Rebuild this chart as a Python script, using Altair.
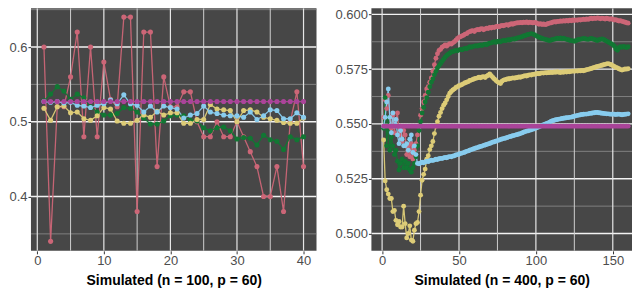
import altair as alt
import pandas as pd

NAMES = ["red", "green", "yellow", "blue", "purple"]
COLORS = ["#CC6677", "#117733", "#DDCC77", "#88CCEE", "#AA4499"]

# ---------------- left panel (n = 100) ----------------
left_x = list(range(1, 41))
left_red = [0.60, 0.34, 0.52, 0.52, 0.56, 0.62, 0.48, 0.60, 0.48, 0.58,
            0.53, 0.52, 0.64, 0.64, 0.38, 0.62, 0.62, 0.44, 0.56, 0.52,
            0.52, 0.54, 0.54, 0.50, 0.48, 0.48, 0.50, 0.48, 0.48, 0.50,
            0.48, 0.46, 0.44, 0.40, 0.40, 0.44, 0.38, 0.50, 0.54, 0.44]
left_green = [0.528, 0.537, 0.547, 0.541, 0.530, 0.537, 0.532, 0.520, 0.513, 0.509,
              0.509, 0.511, 0.519, 0.518, 0.513, 0.505, 0.497, 0.497, 0.501, 0.508,
              0.509, 0.508, 0.502, 0.501, 0.492, 0.488, 0.492, 0.493, 0.488, 0.477,
              0.479, 0.478, 0.469, 0.482, 0.476, 0.474, 0.463, 0.480, 0.476, 0.480]
left_yellow = [0.518, 0.502, 0.520, 0.521, 0.512, 0.513, 0.504, 0.502, 0.508, 0.519,
               0.517, 0.501, 0.498, 0.498, 0.502, 0.509, 0.506, 0.514, 0.509, 0.512,
               0.512, 0.498, 0.498, 0.503, 0.503, 0.523, 0.517, 0.516, 0.515, 0.500,
               0.515, 0.516, 0.513, 0.506, 0.504, 0.502, 0.499, 0.498, 0.498, 0.505]
left_blue = [0.527, 0.526, 0.527, 0.525, 0.526, 0.522, 0.521, 0.519, 0.522, 0.524,
             0.529, 0.524, 0.536, 0.524, 0.522, 0.513, 0.521, 0.513, 0.521, 0.519,
             0.517, 0.505, 0.509, 0.511, 0.521, 0.513, 0.511, 0.509, 0.508, 0.508,
             0.506, 0.513, 0.503, 0.508, 0.516, 0.515, 0.504, 0.504, 0.512, 0.506]
left_purple = [0.527] * 40

# ---------------- right panel (n = 400) ----------------
right_x = list(range(1, 161))
right_red = [
    0.553, 0.561, 0.557, 0.563, 0.553, 0.548, 0.554, 0.546, 0.552, 0.555,
    0.545, 0.549, 0.542, 0.547, 0.545, 0.536, 0.540, 0.535, 0.541, 0.534,
    0.538, 0.541, 0.545, 0.549, 0.554, 0.557, 0.560, 0.563, 0.566, 0.567,
    0.569, 0.571, 0.574, 0.577, 0.580, 0.582, 0.5835, 0.584, 0.585, 0.5855,
    0.5860, 0.5855, 0.5862, 0.5866, 0.5864, 0.5870, 0.5875, 0.5882, 0.5890, 0.5895,
    0.5898, 0.5902, 0.5905, 0.5910, 0.5912, 0.5918, 0.5921, 0.5924, 0.5926, 0.5922,
    0.5928, 0.5931, 0.5929, 0.5933, 0.5935, 0.5930, 0.5934, 0.5937, 0.5935, 0.5940,
    0.5938, 0.5942, 0.5940, 0.5944, 0.5946, 0.5943, 0.5947, 0.5949, 0.5948, 0.5951,
    0.5953, 0.5950, 0.5954, 0.5957, 0.5955, 0.5958, 0.5960, 0.5962, 0.5961, 0.5963,
    0.5962, 0.5964, 0.5963, 0.5965, 0.5962, 0.5964, 0.5963, 0.5961, 0.5963, 0.5962,
    0.5958, 0.5955, 0.5957, 0.5954, 0.5956, 0.5953, 0.5955, 0.5958, 0.5960, 0.5962,
    0.5964, 0.5966, 0.5965, 0.5968, 0.5967, 0.5970, 0.5968, 0.5971, 0.5969, 0.5972,
    0.5970, 0.5973, 0.5971, 0.5974, 0.5972, 0.5975, 0.5973, 0.5976, 0.5974, 0.5976,
    0.5978, 0.5976, 0.5979, 0.5977, 0.5980, 0.5982, 0.5980, 0.5983, 0.5981, 0.5984,
    0.5982, 0.5980, 0.5983, 0.5981, 0.5979, 0.5982, 0.5980, 0.5978, 0.5980, 0.5977,
    0.5974, 0.5976, 0.5972, 0.5970, 0.5971, 0.5968, 0.5966, 0.5964, 0.5962, 0.5960]
right_green = [
    0.548, 0.562, 0.540, 0.553, 0.538, 0.544, 0.540, 0.536, 0.538, 0.533,
    0.529, 0.532, 0.534, 0.530, 0.533, 0.530, 0.532, 0.529, 0.528, 0.530,
    0.532, 0.535, 0.540, 0.547, 0.551, 0.555, 0.5575, 0.560, 0.562, 0.5645,
    0.567, 0.5690, 0.5705, 0.5725, 0.5740, 0.5755, 0.5765, 0.5775, 0.5785, 0.5795,
    0.5805, 0.5812, 0.5818, 0.5823, 0.5828, 0.5830, 0.5833, 0.5835, 0.5834, 0.5838,
    0.5840, 0.5838, 0.5842, 0.5845, 0.5843, 0.5848, 0.5852, 0.5850, 0.5853, 0.5855,
    0.5857, 0.5855, 0.5858, 0.5860, 0.5858, 0.5862, 0.5864, 0.5861, 0.5866, 0.5868,
    0.5870, 0.5873, 0.5875, 0.5872, 0.5876, 0.5878, 0.5875, 0.5879, 0.5881, 0.5880,
    0.5882, 0.5884, 0.5883, 0.5886, 0.5888, 0.5887, 0.5890, 0.5892, 0.5894, 0.5896,
    0.5898, 0.5901, 0.5903, 0.5906, 0.5908, 0.5910, 0.5912, 0.5910, 0.5907, 0.5903,
    0.5899, 0.5896, 0.5893, 0.5890, 0.5888, 0.5886, 0.5884, 0.5882, 0.5881, 0.5883,
    0.5885, 0.5887, 0.5889, 0.5891, 0.5890, 0.5892, 0.5889, 0.5891, 0.5888, 0.5886,
    0.5884, 0.5882, 0.5880, 0.5879, 0.5877, 0.5880, 0.5883, 0.5885, 0.5887, 0.5888,
    0.5890, 0.5889, 0.5887, 0.5886, 0.5888, 0.5890, 0.5888, 0.5885, 0.5883, 0.5881,
    0.5884, 0.5886, 0.5888, 0.5885, 0.5882, 0.5878, 0.5874, 0.5870, 0.5866, 0.5862,
    0.5855, 0.5842, 0.5836, 0.5848, 0.5852, 0.5850, 0.5854, 0.5851, 0.5849, 0.5852]
right_yellow = [
    0.5427, 0.524, 0.520, 0.518, 0.516, 0.516, 0.510, 0.5105, 0.506, 0.504,
    0.5055, 0.503, 0.503, 0.5125, 0.5045, 0.498, 0.500, 0.5035, 0.497, 0.4965,
    0.5015, 0.5045, 0.505, 0.510, 0.5175, 0.5243, 0.527, 0.5294, 0.5339, 0.5355,
    0.5383, 0.5400, 0.5420, 0.5456, 0.5490, 0.5510, 0.5535, 0.5552, 0.5570, 0.5585,
    0.5596, 0.5610, 0.5625, 0.5640, 0.5648, 0.5655, 0.5660, 0.5666, 0.5670, 0.5675,
    0.5676, 0.5680, 0.5684, 0.5688, 0.5690, 0.5693, 0.5698, 0.5700, 0.5703, 0.5706,
    0.5708, 0.5710, 0.5713, 0.5711, 0.5714, 0.5716, 0.5712, 0.5718, 0.5722, 0.5728,
    0.5720, 0.5712, 0.5705, 0.5698, 0.5692, 0.5688, 0.5684, 0.5695, 0.5700, 0.5702,
    0.5704, 0.5706, 0.5706, 0.5708, 0.5710, 0.5709, 0.5711, 0.5712, 0.5714, 0.5713,
    0.5716, 0.5718, 0.5720, 0.5719, 0.5722, 0.5724, 0.5723, 0.5726, 0.5727, 0.5728,
    0.5730, 0.5729, 0.5731, 0.5733, 0.5732, 0.5734, 0.5733, 0.5735, 0.5734, 0.5736,
    0.5735, 0.5737, 0.5736, 0.5738, 0.5736, 0.5735, 0.5737, 0.5736, 0.5738, 0.5737,
    0.5739, 0.5738, 0.5740, 0.5741, 0.5740, 0.5742, 0.5741, 0.5743, 0.5742, 0.5744,
    0.5743, 0.5745, 0.5747, 0.5749, 0.5751, 0.5753, 0.5755, 0.5758, 0.5760, 0.5762,
    0.5764, 0.5766, 0.5768, 0.5770, 0.5772, 0.5774, 0.5775, 0.5773, 0.5770, 0.5766,
    0.5762, 0.5758, 0.5755, 0.5752, 0.5748, 0.5746, 0.5748, 0.5751, 0.5750, 0.5752]
right_blue = [
    0.549, 0.553, 0.560, 0.566, 0.553, 0.546, 0.555, 0.549, 0.552, 0.545,
    0.541, 0.547, 0.543, 0.540, 0.540, 0.541, 0.538, 0.543, 0.545, 0.537,
    0.540, 0.536, 0.5320, 0.5318, 0.5322, 0.5325, 0.5323, 0.5327, 0.5330, 0.5328,
    0.5332, 0.5335, 0.5333, 0.5336, 0.5339, 0.5338, 0.5341, 0.5343, 0.5342, 0.5345,
    0.5347, 0.5346, 0.5349, 0.5351, 0.5350, 0.5353, 0.5355, 0.5358, 0.5360, 0.5362,
    0.5365, 0.5367, 0.5369, 0.5372, 0.5375, 0.5377, 0.5380, 0.5383, 0.5385, 0.5388,
    0.5390, 0.5392, 0.5395, 0.5397, 0.5399, 0.5402, 0.5404, 0.5406, 0.5409, 0.5411,
    0.5414, 0.5417, 0.5419, 0.5421, 0.5424, 0.5426, 0.5429, 0.5431, 0.5433, 0.5435,
    0.5437, 0.5440, 0.5442, 0.5444, 0.5446, 0.5448, 0.5450, 0.5452, 0.5454, 0.5456,
    0.5459, 0.5462, 0.5465, 0.5467, 0.5469, 0.5471, 0.5473, 0.5476, 0.5478, 0.5481,
    0.5484, 0.5487, 0.5490, 0.5493, 0.5496, 0.5499, 0.5502, 0.5505, 0.5508, 0.5512,
    0.5515, 0.5517, 0.5519, 0.5520, 0.5522, 0.5523, 0.5525, 0.5526, 0.5527, 0.5528,
    0.5529, 0.5530, 0.5531, 0.5533, 0.5535, 0.5537, 0.5539, 0.5540, 0.5542, 0.5543,
    0.5544, 0.5545, 0.5545, 0.5546, 0.5548, 0.5549, 0.5550, 0.5551, 0.5552, 0.5552,
    0.5551, 0.5550, 0.5549, 0.5548, 0.5547, 0.5546, 0.5546, 0.5545, 0.5544, 0.5545,
    0.5544, 0.5543, 0.5544, 0.5545, 0.5543, 0.5542, 0.5543, 0.5544, 0.5545, 0.5546]
right_purple = [0.549] * 160

# tick / grid values
left_xmajor = [0, 10, 20, 30, 40]
left_xminor = [5, 15, 25, 35]
left_ymajor = [0.4, 0.5, 0.6]
left_yminor = [0.35, 0.45, 0.55, 0.65]
right_xmajor = [0, 50, 100, 150]
right_xminor = [25, 75, 125]
right_ymajor = [0.500, 0.525, 0.550, 0.575, 0.600]
right_yminor = [0.5125, 0.5375, 0.5625, 0.5875]

FONT = "Liberation Sans"


def make_panel(xs, series, xdom, ydom, xmaj, xmin, ymaj, ymin, yfmt, title, w, h, psize, lw):
    rows = []
    for k, (name, vals) in enumerate(zip(NAMES, series)):
        for x, v in zip(xs, vals):
            rows.append({"x": x, "y": v, "s": name, "k": k * 1000 + x})
    df = pd.DataFrame(rows)

    xscale = alt.Scale(domain=xdom, nice=False, zero=False)
    yscale = alt.Scale(domain=ydom, nice=False, zero=False)
    xaxis = alt.Axis(values=xmaj, format="d", title=title, grid=False, domain=False,
                     tickSize=3, tickColor="#333333", labelColor="#4D4D4D",
                     labelFontSize=13, labelPadding=1, labelFont=FONT,
                     titleFont=FONT, titleFontSize=14, titleFontWeight="bold",
                     titleColor="#000000", titlePadding=6)
    yaxis = alt.Axis(values=ymaj, format=yfmt, title=None, grid=False, domain=False,
                     tickSize=3, tickColor="#333333", labelColor="#4D4D4D",
                     labelFontSize=13, labelPadding=1, labelFont=FONT)
    color = alt.Color("s:N", scale=alt.Scale(domain=NAMES, range=COLORS), legend=None)

    hmin = alt.Chart(pd.DataFrame({"v": ymin})).mark_rule(
        color="#8E8E8E", strokeWidth=0.8, clip=True).encode(
        y=alt.Y("v:Q", scale=yscale, axis=yaxis))
    hmaj = alt.Chart(pd.DataFrame({"v": ymaj})).mark_rule(
        color="#F2F2F2", strokeWidth=1.3, clip=True).encode(
        y=alt.Y("v:Q", scale=yscale, axis=yaxis))
    vmin = alt.Chart(pd.DataFrame({"v": xmin})).mark_rule(
        color="#CFCFCF", strokeWidth=1.0, clip=True).encode(
        x=alt.X("v:Q", scale=xscale, axis=xaxis))
    vmaj = alt.Chart(pd.DataFrame({"v": xmaj})).mark_rule(
        color="#E6E6E6", strokeWidth=1.2, clip=True).encode(
        x=alt.X("v:Q", scale=xscale, axis=xaxis))

    lines = alt.Chart(df).mark_line(strokeWidth=lw, opacity=0.95, clip=True).encode(
        x=alt.X("x:Q", scale=xscale, axis=xaxis),
        y=alt.Y("y:Q", scale=yscale, axis=yaxis),
        color=color,
        order=alt.Order("x:Q"),
    )
    points = alt.Chart(df).mark_circle(size=psize, opacity=1, clip=True).encode(
        x=alt.X("x:Q", scale=xscale, axis=xaxis),
        y=alt.Y("y:Q", scale=yscale, axis=yaxis),
        color=color,
        order=alt.Order("k:Q"),
    )
    return alt.layer(hmin, hmaj, vmin, vmaj, lines, points).properties(width=w, height=h)


left = make_panel(left_x, [left_red, left_green, left_yellow, left_blue, left_purple],
                  [-0.95, 41.95], [0.3273, 0.6519], left_xmajor, left_xminor,
                  left_ymajor, left_yminor, ".1f", "Simulated (n = 100, p = 60)",
                  286, 243, 26, 1.3)
right = make_panel(right_x, [right_red, right_green, right_yellow, right_blue, right_purple],
                   [-6.95, 162.5], [0.4921, 0.6028], right_xmajor, right_xminor,
                   right_ymajor, right_yminor, ".3f", "Simulated (n = 400, p = 60)",
                   261, 243, 24, 1.3)

chart = alt.hconcat(left, right, spacing=18).properties(
    padding=0, background="#FFFFFF"
).configure_view(fill="#474747", strokeWidth=0)

chart.save("out.html", embed_options={"renderer": "svg", "actions": False})
